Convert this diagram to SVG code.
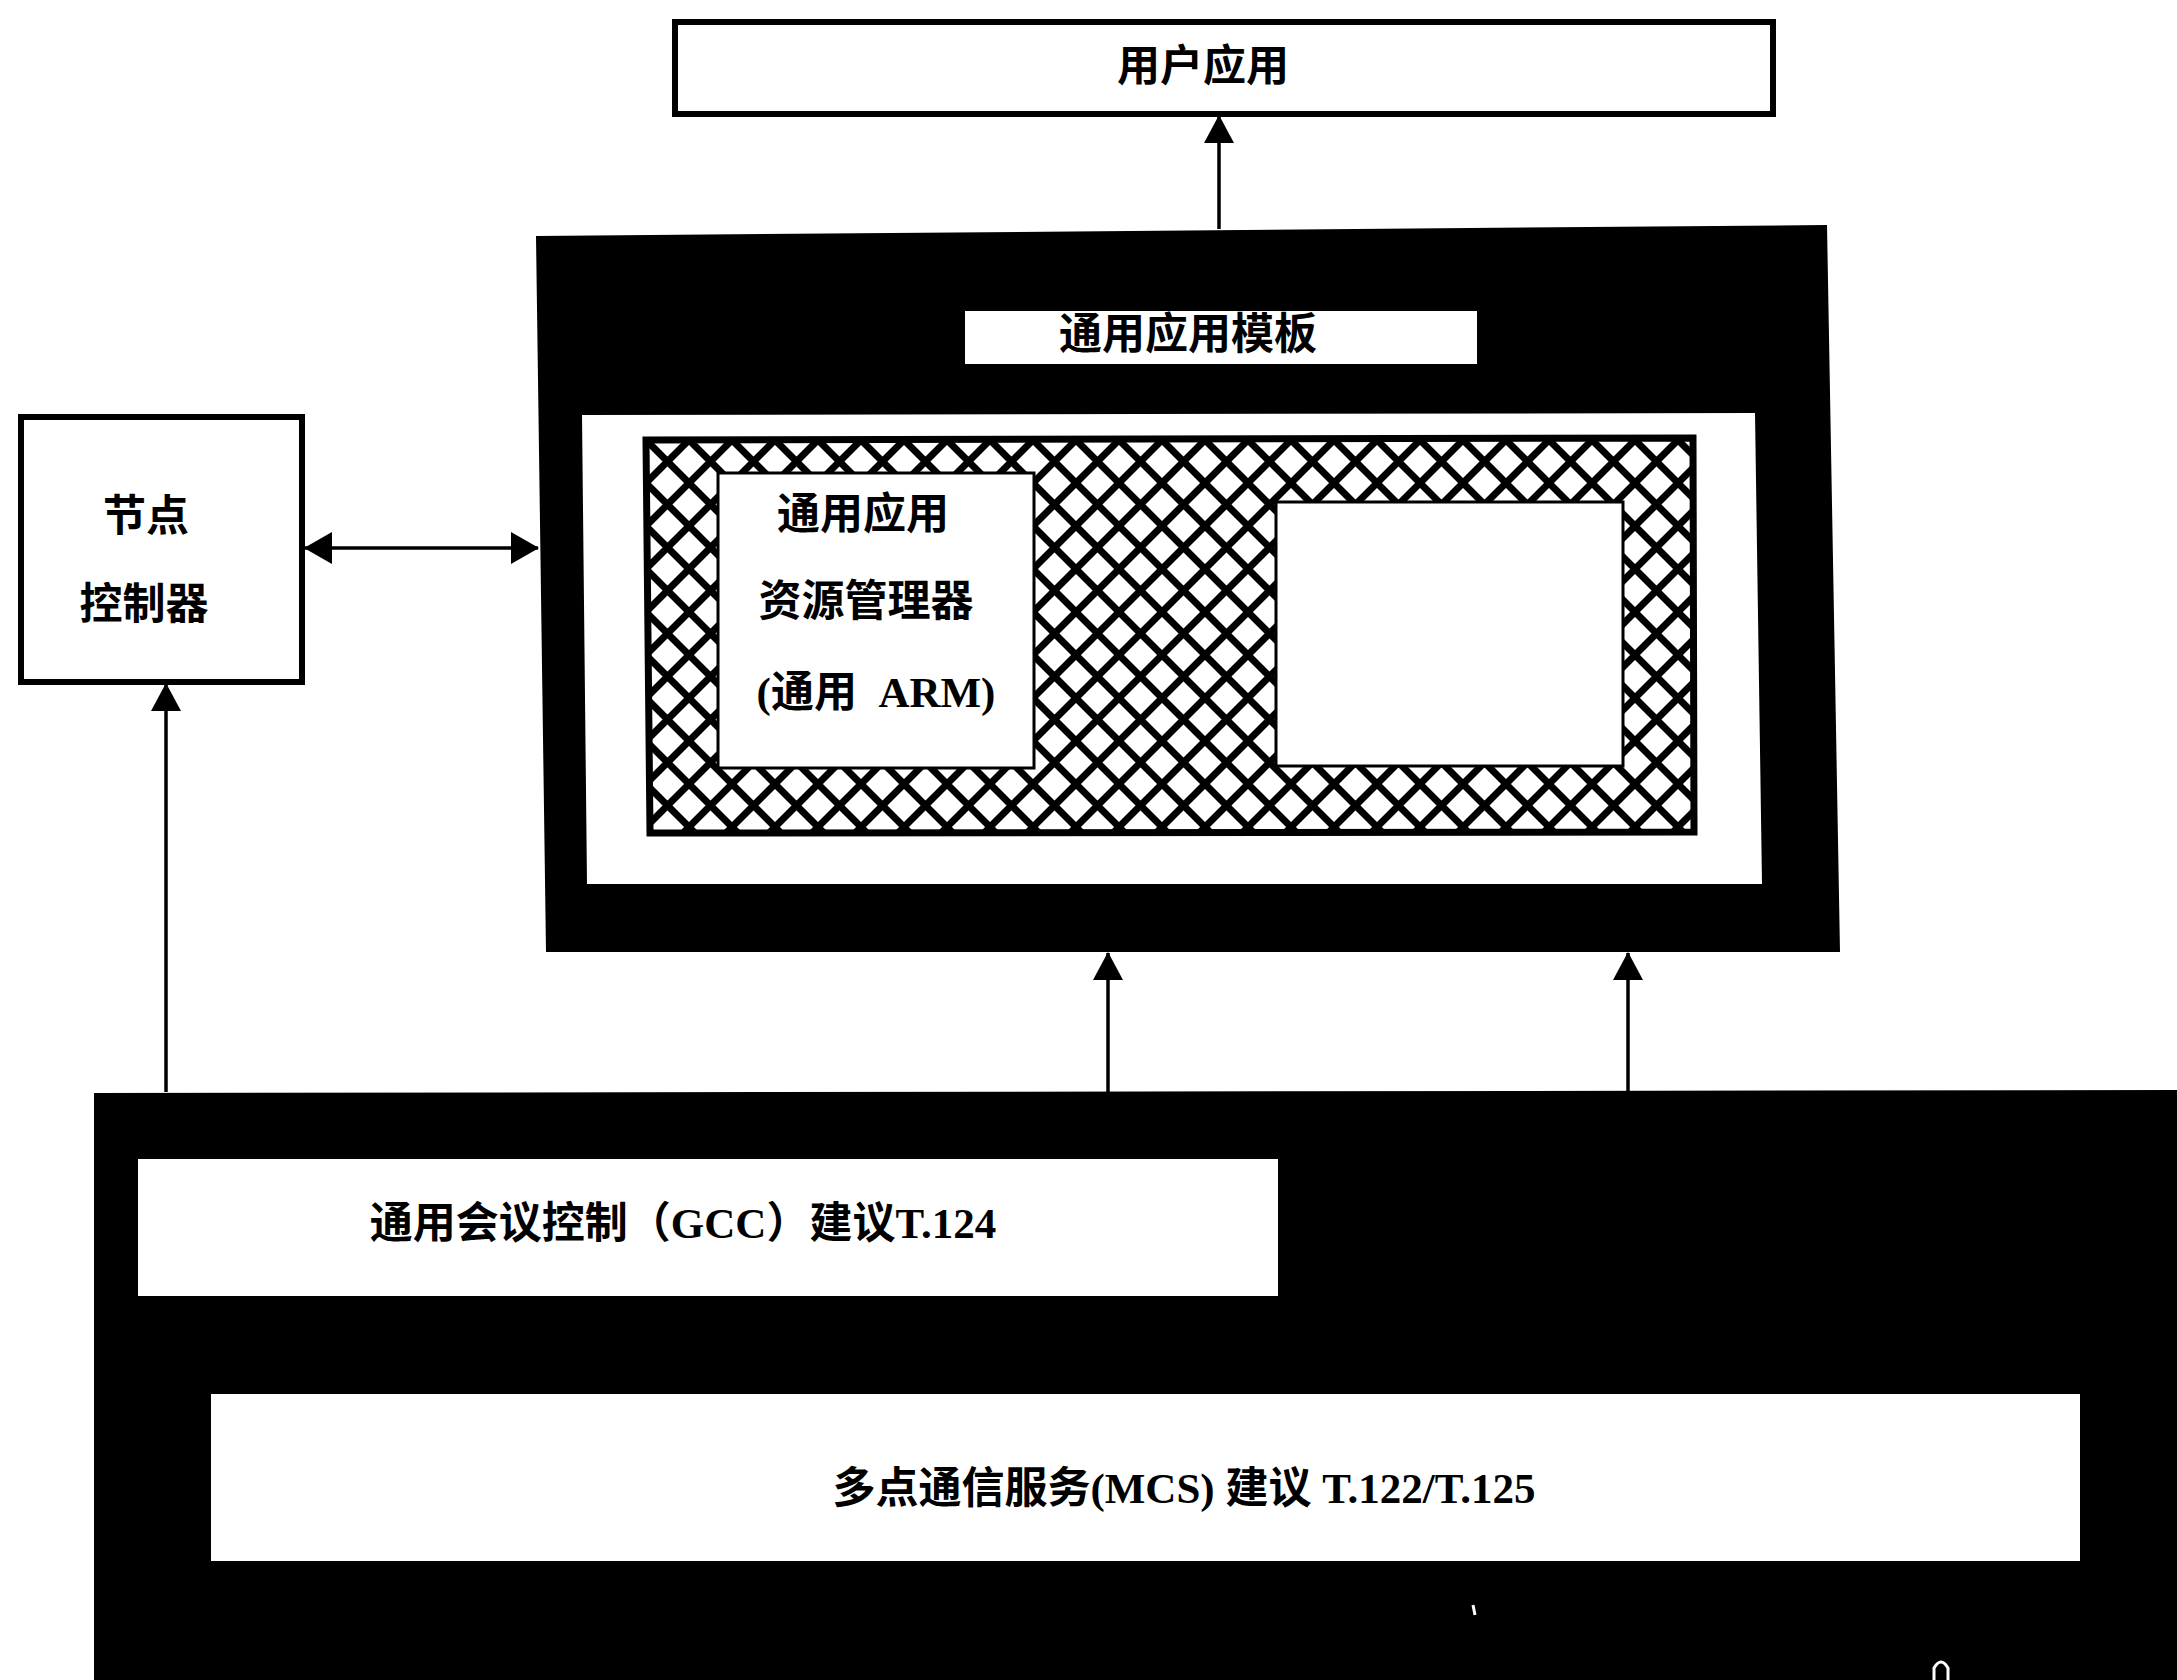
<svg xmlns="http://www.w3.org/2000/svg" width="2177" height="1680" viewBox="0 0 2177 1680">
<defs>
<style>
.t{font-family:"Liberation Serif","Noto Sans CJK SC",serif;font-weight:bold;font-size:43px;fill:#000;text-anchor:middle;dominant-baseline:central}
.box{fill:#fff;stroke:#000;stroke-width:6}
.blk{fill:#000}
.wht{fill:#fff}
.conn{stroke:#000;stroke-width:3.5;fill:none}
</style>
<marker id="ah" viewBox="0 0 28 30" refX="27" refY="15" markerWidth="28" markerHeight="30" markerUnits="userSpaceOnUse" orient="auto-start-reverse">
<path d="M0,0 L28,15 L0,30 z" fill="#000"/>
</marker>
<marker id="ah2" viewBox="0 0 28 32" refX="27" refY="16" markerWidth="28" markerHeight="32" markerUnits="userSpaceOnUse" orient="auto-start-reverse">
<path d="M0,0 L28,16 L0,32 z" fill="#000"/>
</marker>
<pattern id="hatch" width="43" height="43" patternUnits="userSpaceOnUse" x="646" y="440">
<rect width="43" height="43" fill="#fff"/>
<path d="M-5,-5 L48,48 M48,-5 L-5,48" stroke="#000" stroke-width="7"/>
</pattern>
</defs>

<g id="user-app">
<rect class="box" x="675" y="22" width="1098" height="92"/>
<text class="t" x="1203" y="66">用户应用</text>
</g>

<g id="template">
<polygon class="blk" points="536,236 1827,225 1840,952 546,952"/>
<rect class="wht" x="965" y="311" width="512" height="53"/>
<text class="t" x="1188" y="334">通用应用模板</text>
<polygon class="wht" points="582,415 1755,413 1762,884 587,884"/>
<polygon points="646,440 1693,438 1694,832 650,833" fill="url(#hatch)" stroke="#000" stroke-width="7"/>
</g>

<g id="arm">
<rect class="wht" x="718" y="473" width="316" height="295" stroke="#000" stroke-width="3"/>
<text class="t" x="863" y="514">通用应用</text>
<text class="t" x="866" y="601">资源管理器</text>
<text class="t" x="876" y="692" xml:space="preserve">(通用  ARM)</text>
</g>

<g id="blank-box">
<rect class="wht" x="1276" y="502" width="347" height="264" stroke="#000" stroke-width="3"/>
</g>

<g id="node-controller">
<rect class="box" x="21" y="417" width="281" height="265"/>
<text class="t" x="146" y="516">节点</text>
<text class="t" x="144" y="604">控制器</text>
</g>

<g id="gcc-mcs">
<polygon class="blk" points="94,1093 2177,1090 2177,1680 94,1680"/>
<rect class="wht" x="138" y="1159" width="1140" height="137"/>
<text class="t" x="683" y="1223">通用会议控制（GCC）建议T.124</text>
<rect class="wht" x="211" y="1394" width="1869" height="167"/>
<text class="t" x="1184" y="1488" xml:space="preserve">多点通信服务(MCS) 建议 T.122/T.125</text>
<path d="M1473,1605 l2,10" stroke="#fff" stroke-width="3"/>
<path d="M1934,1680 L1934,1668 Q1941,1656 1948,1668 L1948,1680" stroke="#fff" stroke-width="3" fill="none"/>
</g>

<g id="connectors">
<line class="conn" x1="1219" y1="229" x2="1219" y2="116" marker-end="url(#ah)"/>
<line class="conn" x1="305" y1="548" x2="538" y2="548" stroke-width="7" marker-start="url(#ah2)" marker-end="url(#ah2)"/>
<line class="conn" x1="166" y1="1092" x2="166" y2="684" marker-end="url(#ah)"/>
<line class="conn" x1="1108" y1="1092" x2="1108" y2="953" marker-end="url(#ah)"/>
<line class="conn" x1="1628" y1="1092" x2="1628" y2="953" marker-end="url(#ah)"/>
</g>
</svg>
